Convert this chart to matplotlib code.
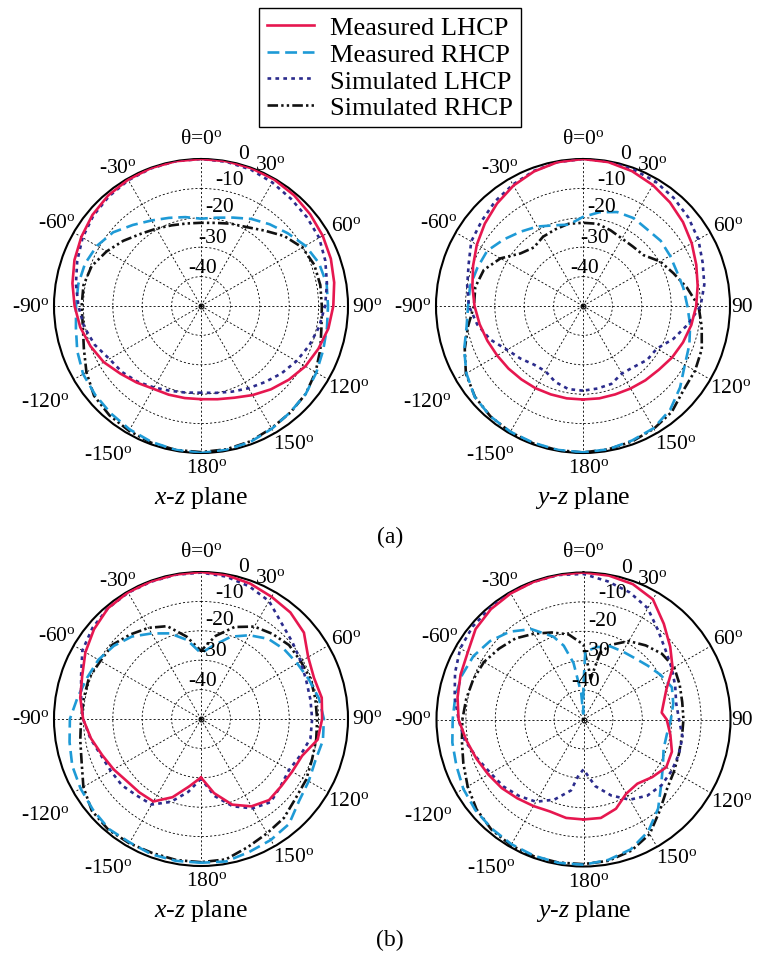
import numpy as np
import matplotlib
matplotlib.use("Agg")
import matplotlib.pyplot as plt

plt.rcParams["font.family"] = "Liberation Serif"
plt.rcParams["mathtext.fontset"] = "custom"
plt.rcParams["mathtext.rm"] = "Liberation Serif"
plt.rcParams["mathtext.it"] = "Liberation Serif:italic"

# theta in degrees (0 = broadside, clockwise), gain in dB
ang = list(range(-180, 181, 10))

# ---- (a) x-z plane ----
a_xz_meas_lhcp = [-18.3, -18.2, -17.9, -17.5, -16.0, -14.2, -11.8, -10.0, -8.3, -7.0,
                  -5.6, -4.2, -3.0, -1.8, -0.9, -0.4, -0.1, 0.0, 0.0, 0.0,
                  -0.1, -0.3, -0.8, -1.5, -2.2, -3.0, -4.0, -5.0, -6.0, -7.5,
                  -9.0, -11.0, -13.0, -15.0, -16.8, -17.8, -18.3]
a_xz_meas_rhcp = [0.0, -0.3, -0.8, -1.5, -2.3, -3.0, -3.7, -5.2, -6.8, -7.5,
                  -7.6, -8.0, -9.1, -11.0, -14.0, -16.4, -18.1, -19.3, -20.3, -19.5,
                  -18.0, -15.8, -13.7, -11.5, -9.0, -7.3, -6.6, -6.8, -6.5, -5.8,
                  -4.7, -3.5, -2.8, -1.8, -0.8, -0.3, 0.0]
a_xz_sim_lhcp = [-20.5, -20.1, -19.3, -18.0, -16.4, -15.0, -14.0, -11.5, -9.6, -8.3,
                 -6.8, -5.2, -3.5, -2.2, -1.3, -0.6, -0.2, 0.0, 0.0, -0.2,
                 -0.6, -1.5, -2.4, -3.0, -3.6, -5.0, -6.5, -7.8, -9.2, -10.8,
                 -12.5, -14.3, -16.2, -17.7, -19.0, -20.0, -20.5]
a_xz_sim_rhcp = [-0.3, -0.3, -0.5, -1.0, -1.5, -2.5, -5.0, -7.6, -9.2, -9.4,
                 -9.4, -10.4, -12.9, -15.5, -18.0, -19.6, -20.8, -21.5, -21.7, -21.3,
                 -20.2, -19.0, -16.5, -13.0, -10.2, -9.0, -8.8, -8.9, -8.4, -6.8,
                 -5.0, -3.5, -2.7, -2.0, -1.0, -0.5, -0.3]

# ---- (a) y-z plane ----
a_yz_meas_lhcp = [-18.2, -18.1, -18.0, -17.7, -17.4, -16.9, -16.3, -15.4, -14.3, -13.1,
                  -11.8, -10.2, -8.3, -6.4, -4.5, -2.7, -1.3, -0.3, 0.0, -0.3,
                  -1.2, -2.5, -4.0, -5.6, -7.3, -9.0, -10.4, -11.5, -12.6, -13.8,
                  -15.0, -16.3, -17.0, -17.6, -18.0, -18.1, -18.2]
a_yz_meas_rhcp = [-0.2, -0.3, -0.5, -0.6, -1.0, -1.9, -4.2, -7.0, -9.8, -10.9,
                  -11.0, -11.8, -12.4, -14.8, -17.0, -18.8, -20.8, -21.9, -19.7, -17.6,
                  -16.0, -15.5, -16.0, -15.5, -15.8, -16.0, -15.3, -14.5, -13.0, -11.5,
                  -10.0, -6.9, -3.9, -2.0, -1.3, -0.5, -0.2]
a_yz_sim_lhcp = [-21.2, -21.3, -22.5, -24.4, -24.0, -22.2, -20.2, -16.5, -13.5, -11.2,
                 -10.0, -8.6, -6.1, -5.0, -3.5, -2.3, -1.1, -0.3, 0.0, -0.2,
                 -0.5, -1.0, -2.0, -3.2, -4.7, -6.7, -8.1, -10.0, -13.8, -17.3,
                 -21.0, -21.5, -23.0, -23.5, -21.8, -21.5, -21.2]
a_yz_sim_rhcp = [-0.2, -0.2, -0.3, -0.5, -1.0, -2.0, -4.0, -7.2, -10.3, -12.9,
                 -12.8, -14.1, -17.6, -22.2, -24.0, -22.8, -22.3, -21.6, -21.7, -21.6,
                 -22.6, -23.5, -23.6, -23.1, -19.7, -17.3, -14.1, -10.7, -9.0, -7.0,
                 -6.0, -5.4, -3.0, -1.8, -1.0, -0.5, -0.2]

# ---- (b) x-z plane ----
b_xz_meas_lhcp = [-30.1, -26.7, -21.7, -17.6, -17.4, -17.1, -15.7, -14.2, -12.0, -9.9,
                  -8.3, -7.0, -4.6, -2.5, -0.8, -0.3, -0.2, -0.1, 0.0, -0.3,
                  -1.0, -2.0, -2.7, -4.3, -7.9, -9.1, -8.3, -8.8, -9.7, -13.4,
                  -14.2, -14.4, -14.0, -15.7, -19.0, -24.4, -30.1]
b_xz_meas_rhcp = [-1.1, -1.0, -1.0, -1.5, -1.2, -2.0, -2.7, -3.4, -4.6, -5.4,
                  -7.4, -8.8, -9.7, -11.3, -13.4, -16.4, -19.0, -22.7, -27.6, -24.5,
                  -20.2, -17.1, -14.4, -13.1, -12.2, -10.9, -9.3, -8.2, -7.9, -8.6,
                  -7.7, -6.5, -3.4, -2.5, -1.9, -0.8, -1.1]
b_xz_sim_lhcp = [-29.7, -24.8, -20.0, -16.4, -16.0, -14.9, -14.6, -13.8, -11.8, -9.9,
                 -8.6, -6.6, -3.4, -1.8, -0.8, -0.4, -0.3, -0.2, -0.2, -0.8,
                 -2.0, -3.7, -7.4, -9.4, -10.8, -11.9, -12.2, -12.2, -12.2, -14.0,
                 -15.4, -14.6, -13.1, -14.9, -18.4, -23.4, -29.7]
b_xz_sim_rhcp = [-1.3, -1.3, -1.5, -1.2, -0.9, -1.5, -3.8, -6.8, -8.3, -9.2,
                 -9.5, -9.4, -10.5, -10.7, -12.5, -14.2, -16.4, -21.5, -26.8, -21.3,
                 -16.7, -13.7, -12.2, -10.9, -10.8, -10.3, -10.5, -10.5, -10.2, -9.8,
                 -8.7, -8.0, -6.1, -5.1, -3.6, -1.5, -1.3]

# ---- (b) y-z plane (extra samples around the nulls) ----
ang_b_yz_red = [-180, -170, -160, -150, -140, -130, -120, -110, -100, -90,
                -80, -70, -60, -50, -40, -30, -20, -10, 0, 10,
                20, 30, 40, 50, 60, 70, 80, 85, 90, 100,
                110, 120, 130, 140, 150, 160, 170, 180]
b_yz_meas_lhcp = [-16.0, -16.0, -16.7, -16.0, -15.0, -13.7, -12.6, -11.2, -9.5, -7.5,
                  -6.5, -5.5, -4.5, -2.1, -1.0, -0.5, -0.2, 0.0, 0.0, -0.3,
                  -1.0, -2.8, -7.5, -11.5, -15.0, -20.0, -22.5, -23.3, -21.7, -20.0,
                  -18.0, -17.5, -19.5, -21.5, -20.9, -17.7, -16.0, -16.0]
ang_b_yz_cyan = [-180, -170, -160, -150, -140, -130, -120, -110, -100, -90,
                 -80, -70, -60, -50, -40, -30, -20, -15, -10, -5,
                 -3, 0, 1.5, 10, 20, 30, 40, 50, 60, 70,
                 80, 90, 100, 110, 120, 130, 140, 150, 160, 170, 180]
b_yz_meas_rhcp = [-0.6, -0.5, -0.7, -1.0, -1.5, -2.0, -2.8, -4.0, -4.7, -5.5,
                  -5.7, -6.0, -6.8, -8.5, -11.0, -14.5, -20.0, -24.0, -30.5, -41.0,
                  -48.0, -38.0, -27.0, -25.0, -23.5, -23.3, -22.8, -21.5, -19.7, -18.0,
                  -19.0, -20.3, -21.2, -21.0, -18.8, -15.5, -10.5, -6.0, -3.0, -1.5, -0.6]
ang_b_yz_navy = [-180, -175, -170, -160, -150, -140, -130, -120, -110, -100, -90,
                 -80, -70, -60, -50, -40, -30, -20, -10, 0, 10,
                 20, 30, 40, 50, 60, 70, 80, 90, 100,
                 110, 120, 130, 140, 150, 160, 170, 175, 180]
b_yz_sim_lhcp = [-33.0, -31.0, -25.5, -21.0, -17.7, -16.0, -14.5, -13.5, -11.5, -9.0, -7.5,
                 -5.5, -3.5, -1.6, -0.8, -0.5, -0.3, -0.2, -0.1, -0.5, -2.3,
                 -4.0, -6.3, -10.5, -13.5, -15.3, -16.8, -18.0, -17.5, -15.8,
                 -15.5, -15.3, -15.3, -16.2, -18.5, -22.5, -27.0, -30.5, -33.0]
ang_b_yz_black = [-180, -170, -160, -150, -140, -130, -120, -110, -100, -90,
                  -80, -70, -60, -50, -40, -30, -20, -10, 0, 2,
                  6, 10, 14, 20, 30, 40, 50, 60, 70, 80,
                  90, 100, 110, 120, 130, 140, 150, 160, 170, 180]
b_yz_sim_rhcp = [-0.8, -0.6, -0.5, -0.6, -1.2, -2.5, -4.5, -6.5, -8.0, -8.8,
                 -9.5, -10.1, -10.9, -12.5, -14.0, -16.3, -18.5, -20.6, -24.5, -28.5,
                 -32.7, -36.0, -26.5, -23.0, -19.2, -17.1, -15.2, -14.4, -15.2, -15.9,
                 -16.0, -16.0, -15.5, -14.5, -13.0, -9.6, -5.0, -2.5, -1.2, -0.8]

labels = ["Measured LHCP", "Measured RHCP", "Simulated LHCP", "Simulated RHCP"]
styles = [
    dict(color="#E6174F", lw=1.9, ls="-"),
    dict(color="#1E9AD6", lw=1.9, ls=(0, (4.5, 2.2))),
    dict(color="#2B2B8C", lw=1.9, ls=(0, (1.4, 1.6))),
    dict(color="#111111", lw=1.9, ls=(0, (4.0, 1.2, 0.9, 1.2, 0.9, 1.2))),
]

panels = [
    # centre x, centre y (pixels), title, right-hand 90 label, series
    (201, 307, r"$\mathit{x}$-$\mathit{z}$ plane", True,
     [(ang, a_xz_meas_lhcp), (ang, a_xz_meas_rhcp), (ang, a_xz_sim_lhcp), (ang, a_xz_sim_rhcp)]),
    (583, 307, r"$\mathit{y}$-$\mathit{z}$ plane", False,
     [(ang, a_yz_meas_lhcp), (ang, a_yz_meas_rhcp), (ang, a_yz_sim_lhcp), (ang, a_yz_sim_rhcp)]),
    (201, 720, r"$\mathit{x}$-$\mathit{z}$ plane", True,
     [(ang, b_xz_meas_lhcp), (ang, b_xz_meas_rhcp), (ang, b_xz_sim_lhcp), (ang, b_xz_sim_rhcp)]),
    (583.5, 720.5, r"$\mathit{y}$-$\mathit{z}$ plane", False,
     [(ang_b_yz_red, b_yz_meas_lhcp), (ang_b_yz_cyan, b_yz_meas_rhcp),
      (ang_b_yz_navy, b_yz_sim_lhcp), (ang_b_yz_black, b_yz_sim_rhcp)]),
]

# angle labels: (theta, radius as fraction of outer circle, text)
deg = r"$^{\rm o}$"
angle_labels = [(0, 1.14, "θ=0" + deg), (26, 1.07, "30" + deg), (61, 1.13, "60" + deg),
                (119, 1.15, "120" + deg), (146, 1.13, "150" + deg),
                (178, 1.10, "180" + deg), (-148, 1.19, "-150" + deg), (-121.6, 1.24, "-120" + deg),
                (-90, 1.16, "-90" + deg), (-60, 1.13, "-60" + deg), (-31, 1.10, "-30" + deg)]
ring_labels = [(15.8, 158, "0"), (12.9, 130, "-10"), (10.9, 101, "-20"),
               (9.9, 70, "-30"), (3, 39, "-40")]

W, H, R = 759, 962, 147
fig = plt.figure(figsize=(W / 100, H / 100), dpi=100)

handles = []
for cx, cy, title, full90, series in panels:
    ax = fig.add_axes([(cx - R) / W, (H - cy - R) / H, 2 * R / W, 2 * R / H], projection="polar")
    ax.set_theta_zero_location("N")
    ax.set_theta_direction(-1)
    ax.set_ylim(-50, 0)
    ax.set_xticks(np.radians(np.arange(0, 360, 30)))
    ax.set_yticks([-40, -30, -20, -10])
    ax.set_xticklabels([])
    ax.set_yticklabels([])
    ax.grid(True, color="k", lw=0.6, ls=(0, (2.5, 2.5)))
    ax.spines["polar"].set_linewidth(1.5)
    ax.plot([0], [-50], "o", ms=3.5, mfc="none", mec="k", mew=0.8)

    hs = []
    for (a, v), st, lab in zip(series, styles, labels):
        h, = ax.plot(np.radians(a), v, label=lab, **st)
        hs.append(h)
    # measured LHCP on top
    for z, h in zip([5, 3, 4, 2], hs):
        h.set_zorder(z)
    handles = hs

    for th, rf, txt in angle_labels:
        ax.text(np.radians(th), rf * 50 - 50, txt, fontsize=15.5, ha="center", va="center")
    if full90:
        ax.text(np.radians(90), 1.13 * 50 - 50, "90" + deg, fontsize=15.5, ha="center", va="center")
    else:
        ax.text(np.radians(90), 1.08 * 50 - 50, "90", fontsize=15.5, ha="center", va="center")
    for th, rp, txt in ring_labels:
        ax.text(np.radians(th), rp / R * 50 - 50, txt, fontsize=15.5, ha="center", va="center")

    fig.text(cx / W, 1 - (cy + 191) / H, title, fontsize=18.5, ha="center", va="center")

fig.text(390 / W, 1 - 537 / H, "(a)", fontsize=17, ha="center", va="center")
fig.text(390 / W, 1 - 940 / H, "(b)", fontsize=17, ha="center", va="center")

leg = fig.legend(handles, labels, loc="upper center", bbox_to_anchor=(390 / W, 1 - 9 / H),
                 fontsize=19, frameon=True, fancybox=False, framealpha=1,
                 edgecolor="k", handlelength=1.8, labelspacing=0.12, borderpad=0.3,
                 handletextpad=0.6, borderaxespad=0)
leg.get_frame().set_linewidth(1.0)

fig.savefig("out.png", dpi=100)
